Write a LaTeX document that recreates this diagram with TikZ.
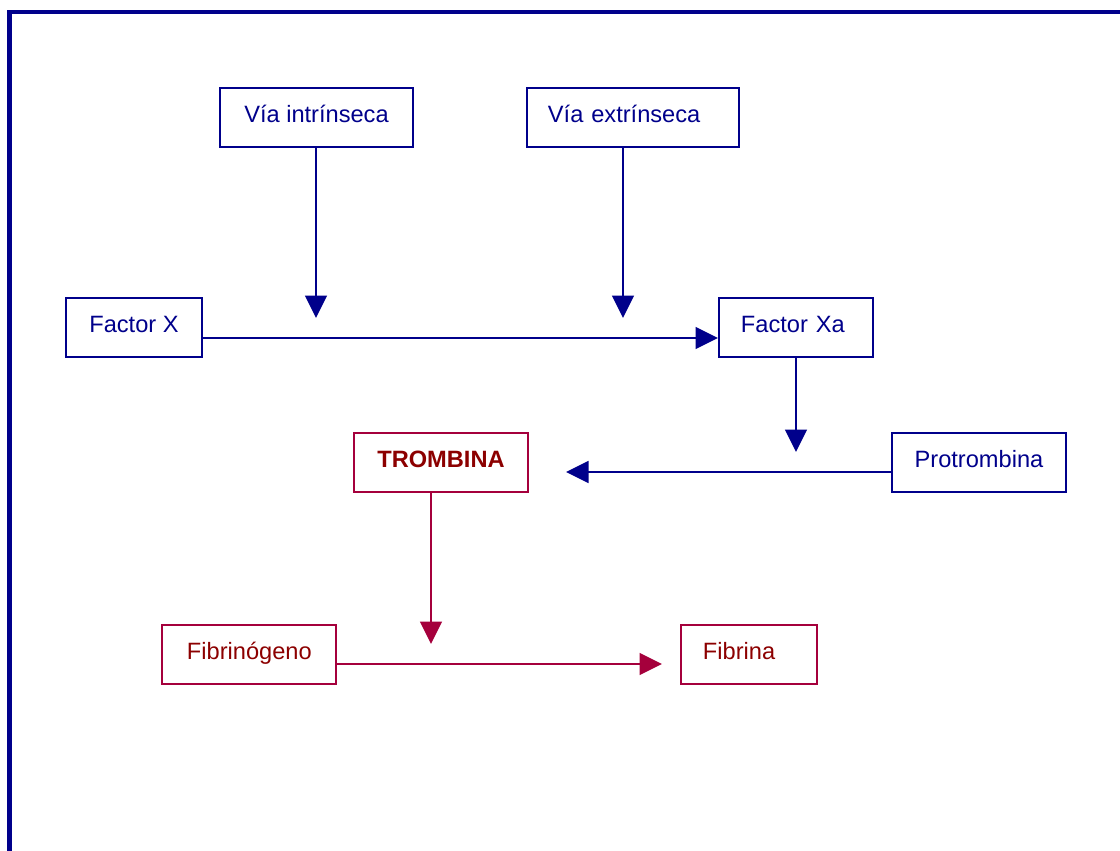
\documentclass[tikz,border=0pt]{standalone}
\usepackage{fontspec}
\setmainfont{Liberation Sans}
\usetikzlibrary{arrows.meta,positioning}
\definecolor{coagblue}{RGB}{0,0,139}
\definecolor{coagred}{RGB}{165,0,60}
\definecolor{coagdark}{RGB}{140,0,0}

\begin{document}
\begin{tikzpicture}[x=0.025cm, y=-0.025cm,
  every node/.style={font=\fontsize{16.8}{20}\selectfont, text height=12pt, text depth=5pt},
  bluebox/.style={draw=coagblue, line width=1.4pt, text=coagblue, minimum height=1.475cm, inner sep=0pt},
  redbox/.style={draw=coagred, line width=1.4pt, text=coagdark, minimum height=1.475cm, inner sep=0pt},
  bluearrow/.style={draw=coagblue, line width=1.4pt, -{Triangle[length=16pt,width=15.5pt]}},
  redarrow/.style={draw=coagred, line width=1.4pt, -{Triangle[length=16pt,width=15.5pt]}}]
  \useasboundingbox (0,0) rectangle (1120,850);
  % frame
  \draw[coagblue, line width=3pt] (9.5,870) -- (9.5,12) -- (1140,12);

  % boxes
  \node[bluebox, minimum width=4.825cm] (intr) at (316.5,117.5) {Vía intrínseca};
  \node[bluebox, minimum width=5.3cm, text width=4.25cm, align=left] (extr) at (633,117.5) {Vía extrínseca};
  \node[bluebox, minimum width=3.4cm] (fx) at (134,327.5) {Factor X};
  \node[bluebox, minimum width=3.85cm, text width=2.75cm, align=left] (fxa) at (796,327.5) {Factor Xa};
  \node[redbox, minimum width=4.35cm, font=\fontsize{16.8}{20}\selectfont\bfseries] (trom) at (441,462.5) {TROMBINA};
  \node[bluebox, minimum width=4.35cm] (prot) at (979,462.5) {Protrombina};
  \node[redbox, minimum width=4.35cm, text width=3.1cm, align=left] (fibg) at (249,654.5) {Fibrinógeno};
  \node[redbox, minimum width=3.4cm, text width=2.3cm, align=left] (fib) at (749,654.5) {Fibrina};

  % arrow ends
  \coordinate (inttip) at (316,318);
  \coordinate (exttip) at (623,318);
  \coordinate (xalevel) at (0,338);
  \coordinate (xatip) at (796,452);
  \coordinate (protip) at (566,472);
  \coordinate (tromtip) at (431,644);
  \coordinate (fibglevel) at (0,664);

  % connectors
  \draw[bluearrow] (fx.east |- xalevel) -- (fxa.west |- xalevel);
  \draw[bluearrow] (intr.south -| inttip) -- (inttip);
  \draw[bluearrow] (extr.south -| exttip) -- (exttip);
  \draw[bluearrow] (fxa.south) -- (xatip);
  \draw[bluearrow] (prot.west |- protip) -- (protip);
  \draw[redarrow] (trom.south -| tromtip) -- (tromtip);
  \draw[redarrow] (fibg.east |- fibglevel) -- (662,664);
\end{tikzpicture}
\end{document}
